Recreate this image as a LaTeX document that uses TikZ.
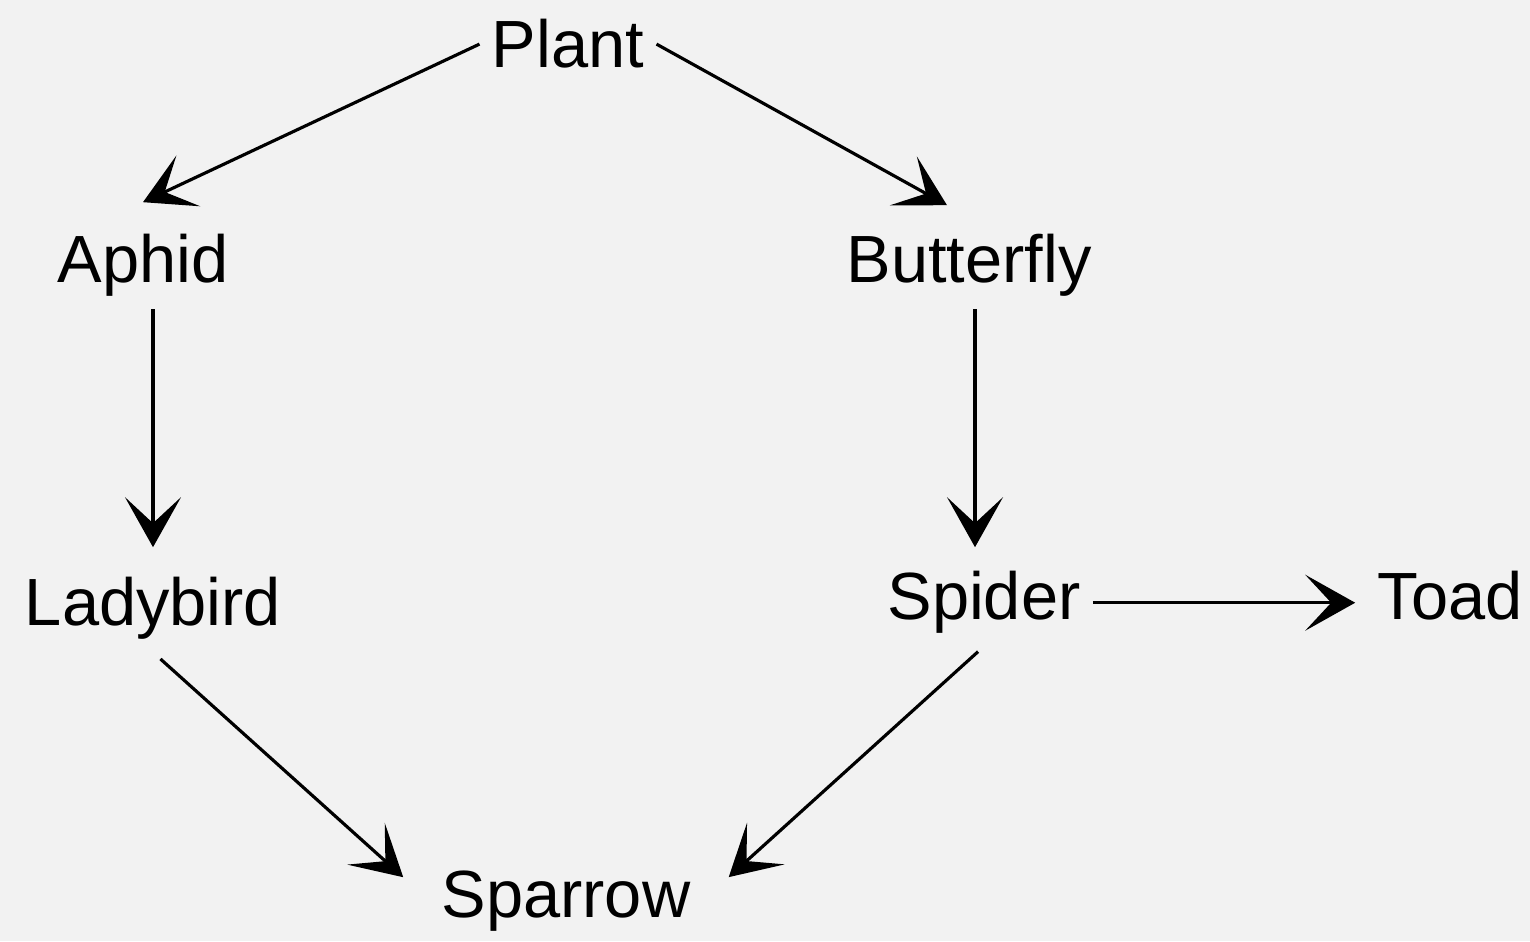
\documentclass[tikz,border=0pt]{standalone}
\usepackage{fontspec}
\setmainfont{Liberation Sans}
\usetikzlibrary{arrows.meta}

\begin{document}
\begin{tikzpicture}[
  animal/.style={font=\fontsize{19}{22}\selectfont, anchor=base},
  eats/.style={line width=0.9pt, -{Stealth[length=5mm, width=5.6mm, inset=2.6mm]}},
]
\fill[white!95!black] (0,0) rectangle (15.30,9.41);
\useasboundingbox (0,0) rectangle (15.30,9.41);

% who eats whom
\node[animal] (plant)     at (5.68,8.73) {Plant};
\node[animal] (aphid)     at (1.43,6.58) {Aphid};
\node[animal] (butterfly) at (9.69,6.58) {Butterfly};
\node[animal] (ladybird)  at (1.53,3.15) {Ladybird};
\node[animal] (spider)    at (9.84,3.21) {Spider};
\node[animal] (toad)      at (14.50,3.21) {Toad};
\node[animal] (sparrow)   at (5.66,0.24) {Sparrow};

\draw[eats] (plant.west) -- ([yshift=2mm]aphid.north);
\draw[eats] (plant.east) -- ([shift={(-2.2mm,1.7mm)}]butterfly.north);
\draw[eats, shorten >=1.8mm] (aphid.south -| ladybird.north) -- (ladybird.north);
\draw[eats, shorten >=1.2mm] ([xshift=0.6mm]butterfly.south) -- ([xshift=0.6mm]butterfly.south |- spider.north);
\draw[eats, shorten >=1mm] (spider.east) -- (spider.east -| toad.west);
\draw[eats, shorten <=1mm, shorten >=3.5mm] (ladybird.south) -- (sparrow.west);
\draw[eats, shorten <=0.8mm, shorten >=3.5mm] (spider.south) -- (sparrow.east);
\end{tikzpicture}
\end{document}
